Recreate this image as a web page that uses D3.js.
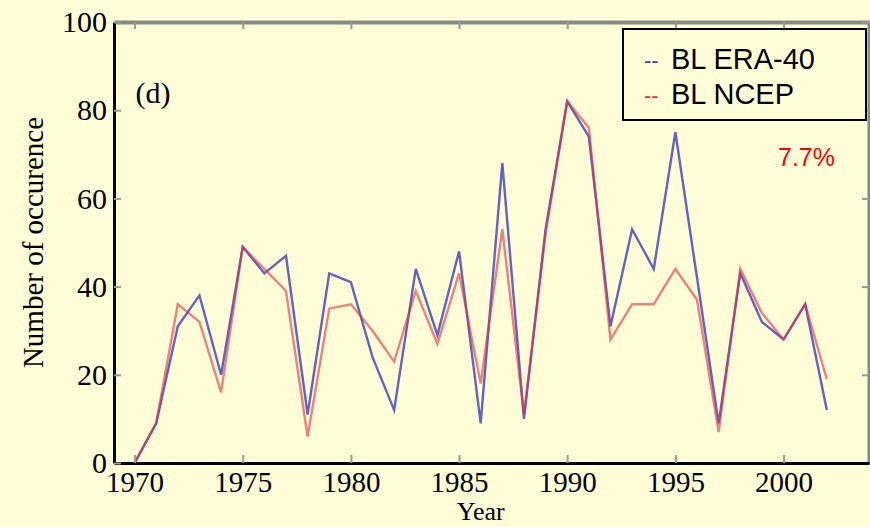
<!DOCTYPE html>
<html>
<head>
<meta charset="utf-8">
<script src="https://cdn.jsdelivr.net/npm/d3@7"></script>
<style>
  html, body { margin: 0; padding: 0; background: #fefdd8; }
  svg { display: block; }
  .tick text { font-family: 'Liberation Serif', 'Times New Roman', serif; fill: #000; }
</style>
</head>
<body>
<div id="chart"></div>
<script>
'use strict';

// data
var years = d3.range(1970, 2003)
var era40 = [0, 9, 31, 38, 20, 49, 43, 47, 11, 43, 41, 24, 12, 44, 29, 48, 9, 68, 10, 53, 82, 74, 31, 53, 44, 75, 42, 9, 43, 32, 28, 36, 12]
var ncep = [0, 9, 36, 32, 16, 49, 44, 39, 6, 35, 36, 30, 23, 39, 27, 43, 18, 53, 11, 52, 82, 76, 28, 36, 36, 44, 37, 7, 44, 34, 28, 36, 19]
var xTicks = [1970, 1975, 1980, 1985, 1990, 1995, 2000]
var yTicks = [0, 20, 40, 60, 80, 100]
var legendLabels = ['BL ERA-40', 'BL NCEP']
var seriesColors = ['#3c3cc0', '#e03040']

var width = 870, height = 527
var margin = { left: 114, right: 1, top: 22, bottom: 64 }

var svg = d3.select('#chart').append('svg').attr('width', width).attr('height', height)

var x = d3.scaleLinear().domain([1969.05, 2003.95]).range([margin.left, width - margin.right])
var y = d3.scaleLinear().domain([0, 100]).range([height - margin.bottom, margin.top])

// top and right frame (grey)
svg.append('g')
    .attr('transform', 'translate(0,' + margin.top + ')')
    .call(d3.axisTop(x).tickValues(xTicks).tickSizeInner(-7).tickSizeOuter(0).tickFormat(''))
    .call(function(g) {
        g.select('.domain').attr('stroke', '#888').attr('stroke-width', 4)
        g.selectAll('.tick line').attr('stroke', '#999').attr('stroke-width', 2)
    })

svg.append('g')
    .attr('transform', 'translate(' + (width - margin.right) + ',0)')
    .call(d3.axisRight(y).tickValues(yTicks).tickSizeInner(-7).tickSizeOuter(0).tickFormat(''))
    .call(function(g) {
        g.select('.domain').attr('stroke', '#888').attr('stroke-width', 4)
        g.selectAll('.tick line').attr('stroke', '#999').attr('stroke-width', 2)
    })

// lines
var line = d3.line()
    .x(function(d, i) { return x(years[i]) })
    .y(function(d) { return y(d) })

svg.append('path')
    .datum(era40)
    .attr('fill', 'none')
    .attr('stroke', seriesColors[0])
    .attr('stroke-width', 2.4)
    .attr('stroke-opacity', 0.8)
    .attr('d', line)

svg.append('path')
    .datum(ncep)
    .attr('fill', 'none')
    .attr('stroke', seriesColors[1])
    .attr('stroke-width', 2.4)
    .attr('stroke-opacity', 0.6)
    .attr('d', line)

// bottom and left axes (black)
svg.append('g')
    .attr('transform', 'translate(0,' + (height - margin.bottom) + ')')
    .call(d3.axisBottom(x).tickValues(xTicks).tickSizeInner(-8).tickSizeOuter(0).tickPadding(8).tickFormat(d3.format('d')))
    .call(function(g) {
        g.select('.domain').attr('stroke', '#000').attr('stroke-width', 3)
        g.selectAll('.tick line').attr('stroke', '#999').attr('stroke-width', 2)
        g.selectAll('.tick text').style('font-size', '29px')
    })

svg.append('g')
    .attr('transform', 'translate(' + margin.left + ',0)')
    .call(d3.axisLeft(y).tickValues(yTicks).tickSizeInner(-7).tickSizeOuter(0).tickPadding(7))
    .call(function(g) {
        g.select('.domain').attr('stroke', '#000').attr('stroke-width', 3)
        g.selectAll('.tick line').attr('stroke', '#999').attr('stroke-width', 2)
        g.selectAll('.tick text').style('font-size', '30px')
    })

// axis titles
svg.append('text')
    .attr('x', x(1986))
    .attr('y', 520)
    .attr('text-anchor', 'middle')
    .style('font-family', 'Liberation Serif, serif')
    .style('font-size', '26px')
    .text('Year')

svg.append('text')
    .attr('transform', 'translate(43,' + y(50) + ') rotate(-90)')
    .attr('text-anchor', 'middle')
    .style('font-family', 'Liberation Serif, serif')
    .style('font-size', '29px')
    .text('Number of occurence')

svg.append('text')
    .attr('x', 153)
    .attr('y', 103)
    .attr('text-anchor', 'middle')
    .style('font-family', 'Liberation Serif, serif')
    .style('font-size', '30px')
    .text('(d)')

// legend
var legend = svg.append('g')
legend.append('rect')
    .attr('x', 623).attr('y', 29)
    .attr('width', 243).attr('height', 91)
    .attr('fill', '#fefdd8')
    .attr('stroke', '#000')
    .attr('stroke-width', 2)

legendLabels.forEach(function(lab, i) {
    var ly = 58 + i * 35
    legend.append('text')
        .attr('x', 644).attr('y', ly + 10)
        .style('font-family', 'Liberation Sans, Arial, sans-serif')
        .style('font-size', '22px')
        .attr('fill', seriesColors[i])
        .text('--')
    legend.append('text')
        .attr('x', 671).attr('y', ly + 11)
        .style('font-family', 'Liberation Sans, Arial, sans-serif')
        .style('font-size', '29px')
        .attr('fill', '#000')
        .text(lab)
})

svg.append('text')
    .attr('x', 778).attr('y', 166)
    .style('font-family', 'Liberation Sans, Arial, sans-serif')
    .style('font-size', '25px')
    .attr('fill', '#ff0000')
    .text('7.7%')
</script>
</body>
</html>
